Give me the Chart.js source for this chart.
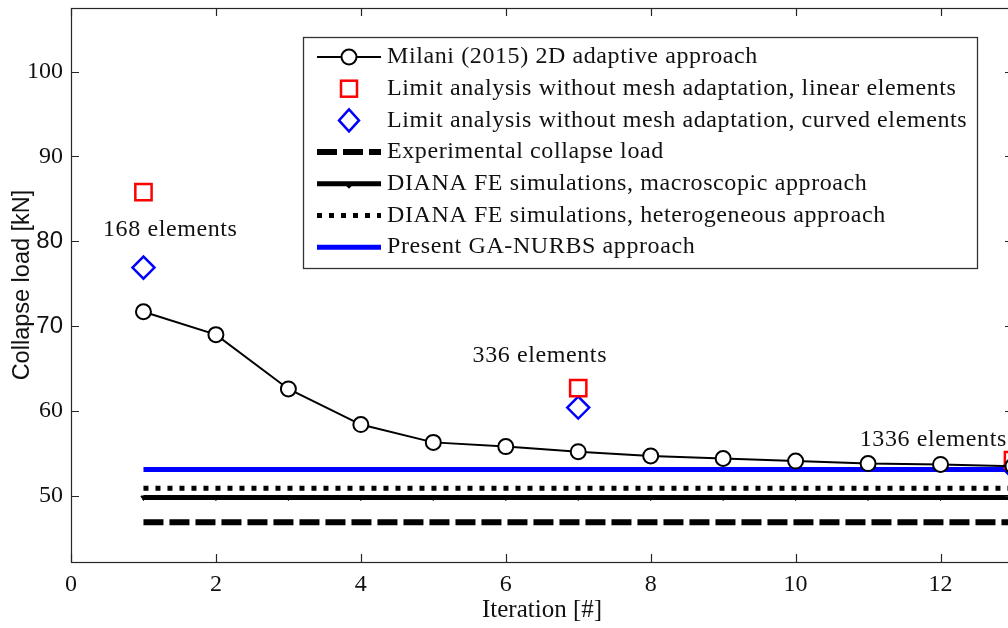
<!DOCTYPE html>
<html><head><meta charset="utf-8">
<script src="https://cdn.jsdelivr.net/npm/chart.js@4.4.0/dist/chart.umd.min.js"></script>
<style>
html,body{margin:0;padding:0;background:#fff;overflow:hidden;width:1008px;height:628px}
#wrap{width:1020px;height:628px;position:relative}
</style></head>
<body><div id="wrap"><canvas id="c" width="1020" height="628"></canvas></div>
<script>
// ---- data ----
const iterations   = [1,2,3,4,5,6,7,8,9,10,11,12,13];
const milani       = [71.7,69.0,62.6,58.4,56.3,55.8,55.2,54.7,54.4,54.1,53.8,53.7,53.5];
const laIterations = [1,7,13];
const laLinear     = [85.8,62.7,54.2];
const laCurved     = [76.9,60.4,53.3];
const experimental = [46.9,46.9,46.9,46.9,46.9,46.9,46.9,46.9,46.9,46.9,46.9,46.9,46.9];
const dianaMacro   = [49.8,49.8,49.8,49.8,49.8,49.8,49.8,49.8,49.8,49.8,49.8,49.8,49.8];
const dianaHetero  = [50.9,50.9,50.9,50.9,50.9,50.9,50.9,50.9,50.9,50.9,50.9,50.9,50.9];
const gaNurbs      = [53.1,53.1,53.1,53.1,53.1,53.1,53.1,53.1,53.1,53.1,53.1,53.1,53.1];
const xTicks = [0,2,4,6,8,10,12];
const yTicks = [50,60,70,80,90,100];
const noteTexts = ['168 elements','336 elements','1336 elements'];
const noteX = [1.37, 6.47, 11.9];
const noteY = [81.4, 66.5, 56.6];

const SERIF = "'Liberation Serif','Times New Roman',serif";
const SANS = "'Liberation Sans',Arial,sans-serif";
const pts = (xs, ys) => xs.map((v,i)=>({x:v, y:ys[i]}));

const datasets = [
  {label:'Milani (2015) 2D adaptive approach', data:pts(iterations,milani), borderColor:'#000', borderWidth:2,
   pointStyle:'circle', pointRadius:7.5, pointBorderWidth:2, pointBackgroundColor:'#fff', pointBorderColor:'#000', _m:'circle'},
  {label:'Limit analysis without mesh adaptation, linear elements', data:pts(laIterations,laLinear), showLine:false,
   borderColor:'#ff0000', pointStyle:'rect', pointRadius:11.5, pointBorderWidth:2.5, pointBackgroundColor:'rgba(0,0,0,0)', pointBorderColor:'#ff0000', _m:'square'},
  {label:'Limit analysis without mesh adaptation, curved elements', data:pts(laIterations,laCurved), showLine:false,
   borderColor:'#0000ff', pointStyle:'rectRot', pointRadius:11, pointBorderWidth:2.5, pointBackgroundColor:'rgba(0,0,0,0)', pointBorderColor:'#0000ff', _m:'diamond'},
  {label:'Experimental collapse load', data:pts(iterations,experimental), borderColor:'#000', borderWidth:6, borderDash:[20,6], pointRadius:0},
  {label:'DIANA FE simulations, macroscopic approach', data:pts(iterations,dianaMacro), borderColor:'#000', borderWidth:5,
   pointStyle:'triangle', pointRotation:180, pointRadius:3, pointBackgroundColor:'#000', pointBorderColor:'#000', pointBorderWidth:1},
  {label:'DIANA FE simulations, heterogeneous approach', data:pts(iterations,dianaHetero), borderColor:'#000', borderWidth:5, borderDash:[5,7], pointRadius:0},
  {label:'Present GA-NURBS approach', data:pts(iterations,gaNurbs), borderColor:'#0000ff', borderWidth:5, pointRadius:0}
];

const overlay = {
  id:'overlay',
  afterDraw(chart){
    const {ctx, chartArea:a, scales:{x,y}} = chart;
    ctx.save();
    ctx.strokeStyle='#262626'; ctx.lineWidth=1.2; ctx.setLineDash([]);
    ctx.strokeRect(a.left+0.5, a.top+0.5, a.right-a.left, a.bottom-a.top);
    ctx.beginPath();
    xTicks.forEach(v=>{const p=Math.round(x.getPixelForValue(v))+0.5;
      ctx.moveTo(p,a.bottom); ctx.lineTo(p,a.bottom-8); ctx.moveTo(p,a.top); ctx.lineTo(p,a.top+8);});
    yTicks.forEach(v=>{const p=Math.round(y.getPixelForValue(v))+0.5;
      ctx.moveTo(a.left,p); ctx.lineTo(a.left+8,p); ctx.moveTo(a.right,p); ctx.lineTo(a.right-8,p);});
    ctx.stroke();
    ctx.letterSpacing='0.6px';
    ctx.fillStyle='#111'; ctx.font='24px '+SERIF; ctx.textAlign='center'; ctx.textBaseline='middle';
    noteTexts.forEach((t,i)=>ctx.fillText(t, x.getPixelForValue(noteX[i]), y.getPixelForValue(noteY[i])));
    const L=303.5, T=37.5, R=977.5, B=268.5;
    ctx.fillStyle='#fff'; ctx.fillRect(L,T,R-L,B-T);
    ctx.strokeStyle='#333'; ctx.lineWidth=1.3; ctx.strokeRect(L,T,R-L,B-T);
    const x0=317, x1=381, tx=387, rowY0=57, dy=31.7;
    chart.data.datasets.forEach((d,i)=>{
      const yy = rowY0 + i*dy, cx=(x0+x1)/2;
      if (d.showLine !== false) {
        ctx.beginPath(); ctx.strokeStyle=d.borderColor; ctx.lineWidth=d.borderWidth;
        ctx.setLineDash(d.borderDash||[]); ctx.moveTo(x0,yy); ctx.lineTo(x1,yy); ctx.stroke(); ctx.setLineDash([]);
      }
      if (d._m==='circle'){ ctx.beginPath(); ctx.arc(cx,yy,7.5,0,Math.PI*2); ctx.fillStyle='#fff'; ctx.fill(); ctx.lineWidth=2; ctx.strokeStyle='#000'; ctx.stroke(); }
      if (d._m==='square'){ ctx.lineWidth=2.5; ctx.strokeStyle=d.borderColor; ctx.strokeRect(cx-8,yy-8,16,16); }
      if (d._m==='diamond'){ ctx.beginPath(); ctx.lineWidth=2.5; ctx.strokeStyle=d.borderColor;
        ctx.moveTo(cx,yy-11); ctx.lineTo(cx+10,yy); ctx.lineTo(cx,yy+11); ctx.lineTo(cx-10,yy); ctx.closePath(); ctx.stroke(); }
      if (d.pointStyle==='triangle'){ ctx.beginPath(); ctx.fillStyle='#000'; ctx.moveTo(cx-3,yy+2); ctx.lineTo(cx+3,yy+2); ctx.lineTo(cx,yy+5); ctx.closePath(); ctx.fill(); }
      ctx.fillStyle='#111'; ctx.font='24px '+SERIF; ctx.textAlign='left'; ctx.textBaseline='middle';
      ctx.fillText(d.label, tx, yy);
    });
    ctx.restore();
  }
};

new Chart(document.getElementById('c'), {
  type:'line',
  data:{datasets},
  options:{
    responsive:false, animation:false, devicePixelRatio:1,
    layout:{autoPadding:false, padding:{top:8, right:7, left:0, bottom:0}},
    plugins:{legend:{display:false}, tooltip:{enabled:false}},
    scales:{
      x:{type:'linear', min:0, max:13,
        afterBuildTicks:s=>{s.ticks = xTicks.map(v=>({value:v}));},
        afterFit:s=>{s.height=66; s.paddingLeft=0; s.paddingRight=0; s.paddingTop=0; s.paddingBottom=0;},
        grid:{display:false, drawTicks:false}, border:{display:false},
        ticks:{padding:8, color:'#111', font:{family:SERIF, size:24}, maxRotation:0},
        title:{display:true, text:'Iteration [#]', color:'#111', font:{family:SERIF, size:25}, padding:{top:3,bottom:3}}
      },
      y:{type:'linear', min:42.2, max:107.5,
        afterBuildTicks:s=>{s.ticks = yTicks.map(v=>({value:v}));},
        afterFit:s=>{s.width=71; s.paddingLeft=0; s.paddingRight=0; s.paddingTop=0; s.paddingBottom=0;},
        grid:{display:false, drawTicks:false}, border:{display:false},
        ticks:{padding:8, color:'#111', font:c=>({family:(c.tick && (c.tick.value===70||c.tick.value===80))?SANS:SERIF, size:24})},
        title:{display:true, text:'Collapse load [kN]', color:'#111', font:{family:SANS, size:23.5}, padding:{top:8,bottom:8}}
      }
    }
  },
  plugins:[overlay]
});
</script>
</body></html>
